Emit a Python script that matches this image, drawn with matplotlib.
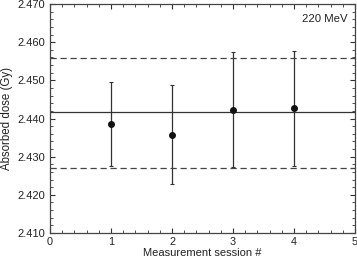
import numpy as np
import matplotlib.pyplot as plt

plt.rcParams['font.family'] = ['Liberation Sans', 'DejaVu Sans']

sessions = [1, 2, 3, 4]
dose = [2.4385, 2.4357, 2.4422, 2.4427]
err_hi = [2.4496, 2.4488, 2.4573, 2.4577]
err_lo = [2.4276, 2.4228, 2.4272, 2.4276]
mean_dose = 2.4416
band_hi = 2.4559
band_lo = 2.4270

fig = plt.figure(figsize=(3.57, 2.58), dpi=100)
ax = fig.add_axes([50/357, 1 - 233/258, 305/357, 229/258])

yerr = [np.array(dose) - np.array(err_lo), np.array(err_hi) - np.array(dose)]
ax.errorbar(sessions, dose, yerr=yerr, fmt='o', color='#111111', ecolor='#333333',
            markersize=4, elinewidth=0.9, capsize=1.5, capthick=0.8)

ax.axhline(mean_dose, color='#333333', linewidth=0.9)
ax.axhline(band_hi, color='#444444', linewidth=0.9, dashes=(5, 3))
ax.axhline(band_lo, color='#444444', linewidth=0.9, dashes=(5, 3))

ax.set_xlim(0, 5)
ax.set_ylim(2.410, 2.470)
ax.set_xticks(range(6))
ax.set_yticks(np.arange(2.410, 2.4701, 0.010))
ax.set_yticklabels(['%.3f' % v for v in np.arange(2.410, 2.4701, 0.010)])
ax.set_xticks(np.arange(0, 5.01, 0.2), minor=True)
ax.set_yticks(np.arange(2.410, 2.4701, 0.002), minor=True)
ax.tick_params(which='both', direction='in', top=True, right=True,
               labelsize=8, colors='#333333', labelcolor='#222222')
ax.tick_params(which='major', length=3.5, width=0.8)
ax.tick_params(which='minor', length=2, width=0.6)
ax.tick_params(axis='x', pad=3, labelsize=7.8)
for s in ax.spines.values():
    s.set_color('#444444')
    s.set_linewidth(0.9)

ax.text(0.975, 0.935, '220 MeV', transform=ax.transAxes, ha='right', va='center',
        fontsize=8.2, color='#222222')
ax.set_xlabel('Measurement session #', fontsize=8, color='#222222', labelpad=0.5)
ax.set_ylabel('Absorbed dose (Gy)', fontsize=8.3, color='#222222', labelpad=3)

fig.savefig('out.png', dpi=100)
